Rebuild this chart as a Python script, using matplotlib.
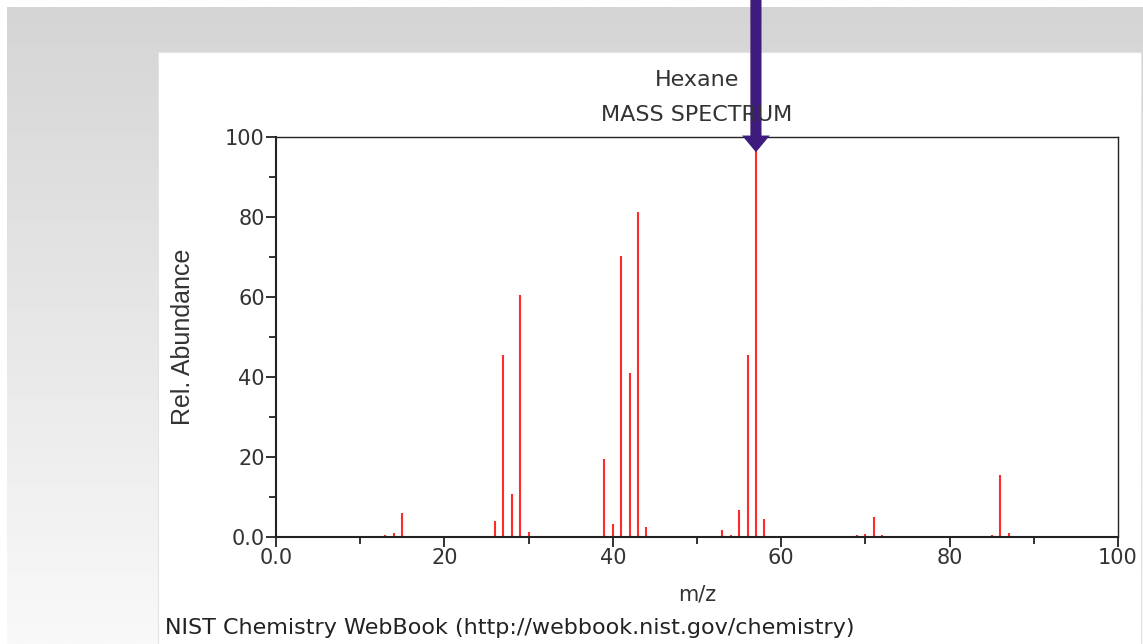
import numpy as np
import matplotlib
matplotlib.use("Agg")
import matplotlib.pyplot as plt
from matplotlib.patches import Rectangle, FancyArrowPatch
from matplotlib.ticker import MultipleLocator, FixedLocator

# Hexane mass spectrum (NIST)
mz = [2, 12, 13, 14, 15, 16, 26, 27, 28, 29, 30, 32,
      39, 40, 41, 42, 43, 44, 53, 54, 55, 56, 57, 58,
      69, 70, 71, 72, 84, 85, 86, 87]
abundance = [0.3, 0.3, 0.5, 1.0, 6.1, 0.3, 4.1, 45.5, 10.8, 60.5, 1.3, 0.2,
             19.6, 3.3, 70.3, 41.0, 81.3, 2.6, 1.7, 0.6, 6.7, 45.5, 100.0, 4.6,
             0.4, 0.8, 5.1, 0.5, 0.3, 0.5, 15.6, 1.0]
x_ticks = [0, 20, 40, 60, 80, 100]
x_tick_labels = ["0.0", "20", "40", "60", "80", "100"]
y_ticks = [0, 20, 40, 60, 80, 100]
y_tick_labels = ["0.0", "20", "40", "60", "80", "100"]
base_peak = 57

W, H = 1143, 644
fig = plt.figure(figsize=(W / 100, H / 100), dpi=100)
fig.patch.set_facecolor("white")

# grey slide background with a soft vertical gradient
bg = fig.add_axes([7 / W, 0, 1 - 7 / W, 1 - 7 / H], zorder=-10)
grad = np.linspace(0, 1, 256).reshape(-1, 1)
bg.imshow(grad, aspect="auto", cmap=matplotlib.colors.LinearSegmentedColormap.from_list(
    "g", ["#d5d5d5", "#f9f9f9"]), extent=[0, 1, 0, 1], origin="upper")
bg.add_patch(Rectangle(((158 - 7) / (W - 7), 0), (1141 - 158) / (W - 7), (644 - 52) / (644 - 7),
                       facecolor="white", edgecolor="#e4e4e4", lw=0.8))
bg.set_xlim(0, 1)
bg.set_ylim(0, 1)
bg.axis("off")

ax = fig.add_axes([276 / W, 1 - 537 / H, (1118 - 276) / W, (537 - 137) / H])
ax.vlines(mz, 0, abundance, color="#ff2a2a", lw=1.5)
ax.set_xlim(0, 100)
ax.set_ylim(0, 100)

ax.xaxis.set_major_locator(FixedLocator(x_ticks))
ax.set_xticklabels(x_tick_labels)
ax.yaxis.set_major_locator(FixedLocator(y_ticks))
ax.set_yticklabels(y_tick_labels)
ax.xaxis.set_minor_locator(MultipleLocator(10))
ax.yaxis.set_minor_locator(MultipleLocator(10))
ax.tick_params(which="major", direction="out", length=7, width=1.3, color="#222222",
               labelsize=15, labelcolor="#333333", pad=1)
ax.tick_params(which="minor", direction="out", length=5, width=1.3, color="#222222")
for s in ax.spines.values():
    s.set_linewidth(1.0)
    s.set_color("#222222")
ax.spines["bottom"].set_linewidth(1.5)
ax.spines["left"].set_linewidth(1.5)

ax.set_xlabel("m/z", fontsize=15, color="#333333", labelpad=12)
ax.set_ylabel("Rel. Abundance", fontsize=18, color="#333333", family="Liberation Sans", labelpad=22)

fig.text(697 / W, 1 - 80 / H, "Hexane", ha="center", va="center", fontsize=16, color="#333333")
fig.text(697 / W, 1 - 115 / H, "MASS SPECTRUM", ha="center", va="center", fontsize=16, color="#333333")
fig.text(165 / W, 1 - 628 / H, "NIST Chemistry WebBook (http://webbook.nist.gov/chemistry)",
         ha="left", va="center", fontsize=16, color="#222222")

# arrow pointing at the base peak
arrow = FancyArrowPatch((base_peak, 135), (base_peak, 96.2),
                        arrowstyle="simple,tail_width=0.4,head_width=1.0,head_length=0.6",
                        mutation_scale=20, color="#3e1c7e", lw=0,
                        shrinkA=0, shrinkB=0, clip_on=False, zorder=10)
ax.add_patch(arrow)

fig.savefig("out.png", dpi=100)
